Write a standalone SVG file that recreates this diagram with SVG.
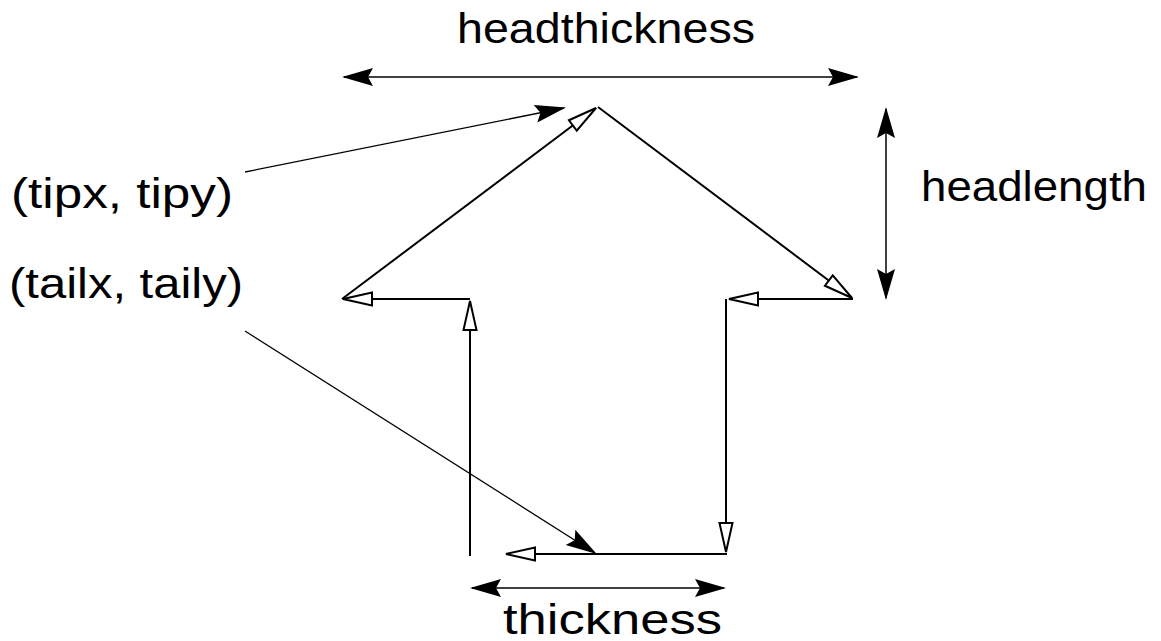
<svg xmlns="http://www.w3.org/2000/svg" width="1161" height="641" viewBox="0 0 1161 641">
  <style>
    .lbl { font-family: "Liberation Sans", Arial, Helvetica, sans-serif; font-size: 43px; fill: #000; }
    .dim { stroke: #000; stroke-width: 1.5; fill: none; }
    .ptr { stroke: #000; stroke-width: 1.3; fill: none; }
    .edge { stroke: #000; stroke-width: 2; fill: none; }
  </style>
  <defs>
    <!-- solid barbed arrowhead, tip at the path end -->
    <marker id="solid" markerUnits="userSpaceOnUse" viewBox="-32 -11 36 22" refX="0" refY="0"
            markerWidth="36" markerHeight="22" orient="auto-start-reverse" overflow="visible">
      <path d="M2,0 L-29,-9 L-24,0 L-29,9 Z" fill="#000"/>
    </marker>
    <!-- open triangular arrowhead -->
    <marker id="open" markerUnits="userSpaceOnUse" viewBox="-32 -9 36 18" refX="0" refY="0"
            markerWidth="36" markerHeight="18" orient="auto" overflow="visible">
      <path d="M0,0 L-29,-6.5 L-29,6.5 Z" fill="#fff" stroke="#000" stroke-width="2"/>
    </marker>
  </defs>

  <!-- arrow outline, traced segment by segment -->
  <g id="outline">
    <line class="edge" x1="470" y1="556" x2="470" y2="301" marker-end="url(#open)"/>
    <line class="edge" x1="470" y1="299" x2="343" y2="299" marker-end="url(#open)"/>
    <line class="edge" x1="342" y1="299" x2="596" y2="108" marker-end="url(#open)"/>
    <line class="edge" x1="598" y1="107" x2="852" y2="298" marker-end="url(#open)"/>
    <line class="edge" x1="853" y1="299" x2="729" y2="299" marker-end="url(#open)"/>
    <line class="edge" x1="726" y1="299" x2="726" y2="552" marker-end="url(#open)"/>
    <line class="edge" x1="727" y1="554" x2="506" y2="554" marker-end="url(#open)"/>
  </g>

  <!-- dimension and pointer connectors -->
  <g id="connectors">
    <line class="dim" x1="344" y1="77" x2="857" y2="77" marker-start="url(#solid)" marker-end="url(#solid)"/>
    <line class="dim" x1="886" y1="109" x2="886" y2="298" marker-start="url(#solid)" marker-end="url(#solid)"/>
    <line class="dim" x1="472" y1="588" x2="724" y2="588" marker-start="url(#solid)" marker-end="url(#solid)"/>
    <line class="ptr" x1="245" y1="172" x2="564" y2="108" marker-end="url(#solid)"/>
    <line class="ptr" x1="245" y1="331" x2="595" y2="553" marker-end="url(#solid)"/>
  </g>

  <g id="label-headthickness"><text class="lbl" x="457" y="43" textLength="298" lengthAdjust="spacingAndGlyphs">headthickness</text></g>
  <g id="label-headlength"><text class="lbl" x="921" y="201" textLength="226" lengthAdjust="spacingAndGlyphs">headlength</text></g>
  <g id="label-tip"><text class="lbl" x="11" y="208" textLength="222" lengthAdjust="spacingAndGlyphs">(tipx, tipy)</text></g>
  <g id="label-tail"><text class="lbl" x="9" y="298" textLength="234" lengthAdjust="spacingAndGlyphs">(tailx, taily)</text></g>
  <g id="label-thickness"><text class="lbl" x="503" y="634" textLength="219" lengthAdjust="spacingAndGlyphs">thickness</text></g>
</svg>
